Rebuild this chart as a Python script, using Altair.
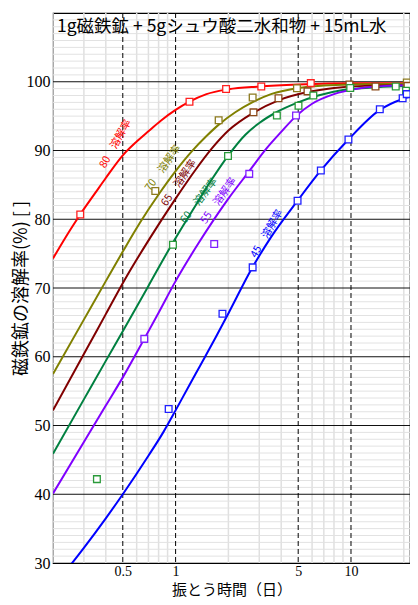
import altair as alt
import pandas as pd

# ---- data ----
series = ["80", "70", "65", "60", "55", "45"]
line_colors = ["#ff0000", "#808000", "#800000", "#008040", "#8000ff", "#0000ff"]
mark_colors = ["#ff2020", "#8c7a1e", "#8b4a1a", "#2a9a3a", "#8020ff", "#2020ff"]

# fitted curves (time in days, dissolution %)
c80_t = [0.2, 0.25, 0.286, 0.35, 0.4, 0.5, 0.6, 0.7, 0.82, 1.0, 1.2, 1.5, 2.0, 3.0, 5.0, 10, 24]
c80_v = [74.3, 78.4, 80.7, 83.9, 86.0, 89.3, 91.3, 92.8, 94.3, 95.9, 97.1, 98.2, 98.9, 99.3, 99.6, 99.8, 99.8]
c70_t = [0.2, 0.3, 0.4, 0.5, 0.63, 0.8, 1.0, 1.24, 1.5, 1.77, 2.2, 2.75, 3.5, 5, 7, 10, 24]
c70_v = [57.5, 65.4, 71.0, 75.3, 79.6, 83.6, 87.0, 89.9, 92.1, 93.8, 95.6, 97.05, 98.2, 99.1, 99.45, 99.6, 99.7]
c65_t = [0.2, 0.3, 0.4, 0.51, 0.72, 1.0, 1.3, 1.61, 2.0, 2.78, 3.86, 5.67, 8, 12, 24]
c65_v = [52.2, 60.4, 66.2, 71.1, 77.4, 83.0, 87.2, 90.3, 92.9, 95.5, 97.3, 98.5, 99.1, 99.4, 99.5]
c60_t = [0.2, 0.3, 0.4, 0.5, 0.7, 0.97, 1.3, 1.6, 2.0, 2.5, 3.0, 3.78, 5.0, 6.5, 9, 14, 24]
c60_v = [45.9, 53.8, 59.4, 63.7, 70.3, 76.7, 82.0, 85.7, 89.3, 92.3, 94.0, 95.6, 97.0, 98.0, 98.8, 99.2, 99.4]
c55_t = [0.2, 0.3, 0.4, 0.5, 0.663, 0.8, 1.0, 1.35, 2.0, 2.63, 3.3, 4.0, 4.86, 6, 8, 11, 16, 24]
c55_v = [40.1, 47.6, 52.9, 57.0, 62.6, 66.4, 71.0, 76.5, 83.0, 87.0, 90.3, 92.7, 95.0, 96.8, 98.2, 99.0, 99.4, 99.5]
c45_t = [0.25, 0.3, 0.4, 0.5, 0.7, 0.85, 1.0, 1.2, 1.38, 1.7, 2.0, 2.73, 3.5, 4.96, 6.73, 9.67, 14.6, 19.7, 24]
c45_v = [29.6, 32.2, 36.5, 40.0, 45.6, 49.0, 52.2, 55.9, 58.7, 62.9, 66.3, 72.9, 77.4, 82.7, 87.1, 91.6, 95.9, 97.5, 98.1]

# measured points
p80_t = [0.286, 1.2, 1.94, 3.08, 5.9]
p80_v = [80.7, 97.1, 98.95, 99.3, 99.8]
p70_t = [0.766, 1.76, 2.75, 4.92, 20.8]
p70_v = [84.1, 94.4, 97.7, 99.05, 99.9]
p65_t = [2.78, 3.86, 5.65, 9.8, 13.8, 21.0]
p65_v = [95.55, 97.6, 98.6, 99.6, 99.3, 99.4]
p60_t = [0.356, 0.966, 1.99, 3.78, 5.02, 6.1, 9.9, 18.0, 20.6]
p60_v = [42.2, 76.3, 89.2, 95.1, 96.5, 98.0, 99.1, 99.3, 98.7]
p55_t = [0.663, 1.66, 2.63, 4.86]
p55_v = [62.6, 76.4, 86.6, 95.1]
p45_t = [0.913, 1.85, 2.75, 4.96, 6.73, 9.67, 14.6, 19.7, 20.8]
p45_v = [52.4, 66.25, 73.0, 82.7, 87.1, 91.6, 96.0, 97.6, 98.2]

# curve labels
label_text = ["80\u3000溶解率", "70\u3000溶解率", "65\u3000溶解率", "60\u3000溶解率", "55\u3000溶解率", "45\u3000溶解率"]
label_t = [0.455, 0.849, 1.046, 1.361, 1.76, 3.32]
label_v = [90.96, 87.44, 85.3, 82.7, 82.7, 77.9]
label_angle = [299, 305, 304, 307, 305, 300]

x_ticks = [0.5, 1, 5, 10]
y_ticks = [30, 40, 50, 60, 70, 80, 90, 100]
x_minor = [0.2, 0.3, 0.4, 0.6, 0.7, 0.8, 0.9, 2, 3, 4, 6, 7, 8, 9, 20]
x_dashed = [0.5, 1, 5, 10]
y_major = [40, 50, 60, 70, 80, 90, 100]
y_minor = [v for v in range(31, 110) if v % 10 != 0]

title_text = "1g磁鉄鉱 + 5gシュウ酸二水和物 + 15mL水"
x_title = "振とう時間（日）"
y_title = "磁鉄鉱の溶解率(%) [ ]"

# ---- build frames ----
curves_t = [c80_t, c70_t, c65_t, c60_t, c55_t, c45_t]
curves_v = [c80_v, c70_v, c65_v, c60_v, c55_v, c45_v]
pts_t = [p80_t, p70_t, p65_t, p60_t, p55_t, p45_t]
pts_v = [p80_v, p70_v, p65_v, p60_v, p55_v, p45_v]

curve_df = pd.concat([
    pd.DataFrame({"t": t, "v": v, "s": s, "order": range(len(t))})
    for s, t, v in zip(series, curves_t, curves_v)
])
pts_df = pd.concat([
    pd.DataFrame({"t": t, "v": v, "s": s})
    for s, t, v in zip(series, pts_t, pts_v)
])
lab_df = pd.DataFrame({"text": label_text, "t": label_t, "v": label_v,
                       "angle": label_angle, "s": series})

FONT_CJK = "Noto Sans CJK JP"
FONT_SERIF = "Liberation Serif"

xscale = alt.Scale(type="log", domain=[0.2, 21.7], nice=False)
yscale = alt.Scale(domain=[30, 110], nice=False, zero=False)

xaxis = alt.Axis(values=x_ticks, format="~g", grid=False, ticks=False,
                 title=x_title, labelFont=FONT_SERIF, labelFontSize=14,
                 labelColor="black", labelPadding=1,
                 titleFont=FONT_CJK, titleFontSize=15, titleFontWeight="normal",
                 titleColor="black", titleY=34, titleBaseline="bottom",
                 domainColor="black", labelFlush=False)
yaxis = alt.Axis(values=y_ticks, grid=False, ticks=False, title=y_title,
                 labelFont=FONT_SERIF, labelFontSize=16, labelColor="black",
                 labelPadding=3, titleFont=FONT_CJK, titleFontSize=18,
                 titleFontWeight="normal", titleColor="black",
                 titleX=-32, titleY=275, titleAngle=270, titleAlign="center",
                 titleBaseline="middle", domainColor="black")

base_x = alt.X("t:Q", scale=xscale, axis=xaxis)
base_y = alt.Y("v:Q", scale=yscale, axis=yaxis)

vminor = alt.Chart(pd.DataFrame({"t": x_minor})).mark_rule(
    color="#e0e0e0", strokeWidth=1.5).encode(x=alt.X("t:Q", scale=xscale, axis=xaxis))
hminor = alt.Chart(pd.DataFrame({"v": y_minor})).mark_rule(
    color="#e2e2e2", strokeWidth=1).encode(y=alt.Y("v:Q", scale=yscale, axis=yaxis))
hmajor = alt.Chart(pd.DataFrame({"v": y_major})).mark_rule(
    color="#111111", strokeWidth=1).encode(y=alt.Y("v:Q", scale=yscale, axis=yaxis))
vdash = alt.Chart(pd.DataFrame({"t": x_dashed})).mark_rule(
    color="black", strokeWidth=1, strokeDash=[5, 3]).encode(x=alt.X("t:Q", scale=xscale, axis=xaxis))

lines = alt.Chart(curve_df).mark_line(strokeWidth=2, interpolate="monotone", clip=True).encode(
    x=base_x, y=base_y,
    color=alt.Color("s:N", scale=alt.Scale(domain=series, range=line_colors), legend=None),
    order="order:Q", detail="s:N")

points = alt.Chart(pts_df).mark_point(shape="square", size=45, strokeWidth=1.3,
                                      fill="white", fillOpacity=1, opacity=1, clip=True).encode(
    x=base_x, y=base_y,
    stroke=alt.Stroke("s:N", scale=alt.Scale(domain=series, range=mark_colors), legend=None))

labels = alt.Chart(lab_df).mark_text(font=FONT_CJK, fontSize=10.5, align="center",
                                     baseline="middle").encode(
    x=base_x, y=base_y, text="text:N",
    angle=alt.Angle("angle:Q", scale=None),
    color=alt.Color("s:N", scale=alt.Scale(domain=series, range=line_colors), legend=None))

title = alt.Chart(pd.DataFrame({"text": [title_text]})).mark_text(
    font=FONT_CJK, fontSize=17.5, align="left", baseline="middle", color="black").encode(
    x=alt.value(4), y=alt.value(14), text="text:N")

chart = alt.layer(vminor, hminor, hmajor, vdash, lines, points, labels, title).properties(
    width=357, height=550,
    autosize=alt.AutoSizeParams(type="none"),
    padding={"left": 45, "top": 5, "right": 0, "bottom": 34},
    background="white",
).configure_view(stroke="black", strokeWidth=1.2)

chart.save("out.html", embed_options={"renderer": "svg", "actions": False})
